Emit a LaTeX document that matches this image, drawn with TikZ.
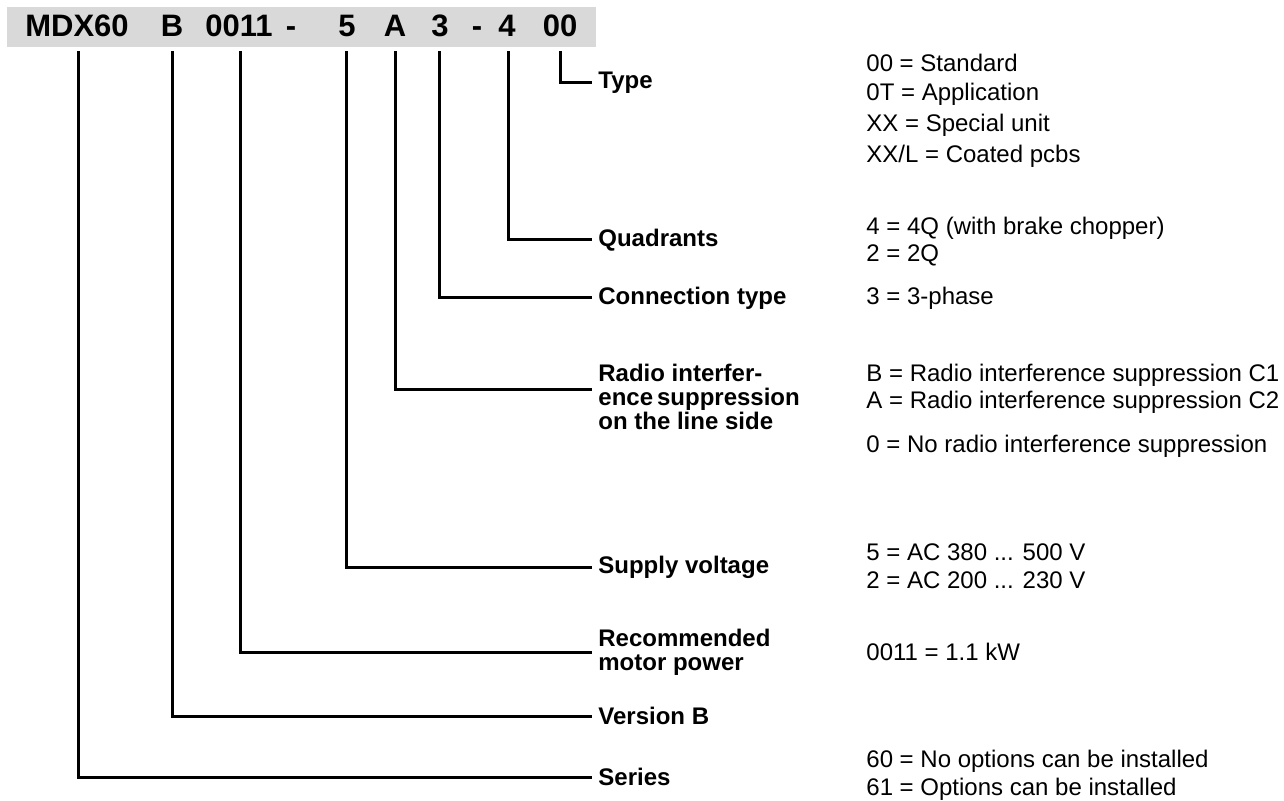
\documentclass[tikz,border=0pt]{standalone}
\usepackage{fontspec}
\setmainfont{Liberation Sans}
\definecolor{barfill}{HTML}{D9D9D9}
\begin{document}
\begin{tikzpicture}[x=0.5pt,y=-0.5pt,
  code/.style={font=\fontsize{15.5}{18}\selectfont\bfseries, inner sep=0pt, anchor=base},
  lbl/.style={font=\fontsize{12}{12}\selectfont\bfseries, inner sep=0pt, anchor=west, align=left},
  desc/.style={font=\fontsize{12}{12}\selectfont, inner sep=0pt, anchor=west},
  conn/.style={line width=1.5pt, line cap=rect}]
\useasboundingbox (0,0) rectangle (1284,801);
\fill[barfill] (7,7) rectangle (596,47);
% code letters
\node[code] (c1) at (77,37) {MDX60};
\node[code] (c2) at (172,37) {B};
\node[code] (c3) at (239,37) {0011};
\node[code] (c4) at (291,37) {-};
\node[code] (c5) at (347,37) {5};
\node[code] (c6) at (395,37) {A};
\node[code] (c7) at (440,37) {3};
\node[code] (c8) at (477,37) {-};
\node[code] (c9) at (507,37) {4};
\node[code] (c10) at (560,37) {00};
% tick tops
\coordinate (t1) at (78,53);
\coordinate (t2) at (172,53);
\coordinate (t3) at (240,53);
\coordinate (t4) at (346,53);
\coordinate (t5) at (395,53);
\coordinate (t6) at (439,53);
\coordinate (t7) at (508,53);
\coordinate (t8) at (560,53);
% labels
\node[lbl] (lType) at (598,83) {Type};
\node[lbl] (lQuad) at (598,240) {Quadrants};
\node[lbl] (lConn) at (598,298) {Connection type};
\node[lbl] (lRadio) at (598,397) {\fontsize{12}{12}\selectfont\bfseries Radio interfer-\\ence\,suppression\\on the line side};
\node[lbl] (lSup) at (598,567) {Supply voltage};
\node[lbl] (lRec) at (598,652) {Recommended\\motor power};
\node[lbl] (lVer) at (598,716) {Version B};
\node[lbl] (lSer) at (598,777) {Series};
% connectors
\draw[conn] (t8) |- ([xshift=-4pt]lType.west);
\draw[conn] (t7) |- ([xshift=-4pt]lQuad.west);
\draw[conn] (t6) |- ([xshift=-4pt]lConn.west);
\draw[conn] (t5) |- ([xshift=-4pt,yshift=3.5pt]lRadio.west);
\draw[conn] (t4) |- ([xshift=-4pt]lSup.west);
\draw[conn] (t3) |- ([xshift=-4pt]lRec.west);
\draw[conn] (t2) |- ([xshift=-4pt]lVer.west);
\draw[conn] (t1) |- ([xshift=-4pt]lSer.west);
% descriptions
\node[desc] (d1) at (866,63) {00 = Standard};
\node[desc] (d2) at (866,94) {0T = Application};
\node[desc] (d3) at (866,125) {XX = Special unit};
\node[desc] (d4) at (866,156) {XX/L = Coated pcbs};
\node[desc] (d5) at (866,228) {4 = 4Q (with brake chopper)};
\node[desc] (d6) at (866,255) {2 = 2Q};
\node[desc] (d7) at (866,298) {3 = 3-phase};
\node[desc] (d8) at (866,375) {B = Radio interference suppression C1};
\node[desc] (d9) at (866,402) {A = Radio interference suppression C2};
\node[desc] (d10) at (866,446) {0 = No radio interference suppression};
\node[desc] (d11) at (866,552) {5 = AC 380 ... 500 V};
\node[desc] (d12) at (866,580) {2 = AC 200 ... 230 V};
\node[desc] (d13) at (866,652) {0011 = 1.1 kW};
\node[desc] (d14) at (866,761) {60 = No options can be installed};
\node[desc] (d15) at (866,789) {61 = Options can be installed};
\end{tikzpicture}
\end{document}
